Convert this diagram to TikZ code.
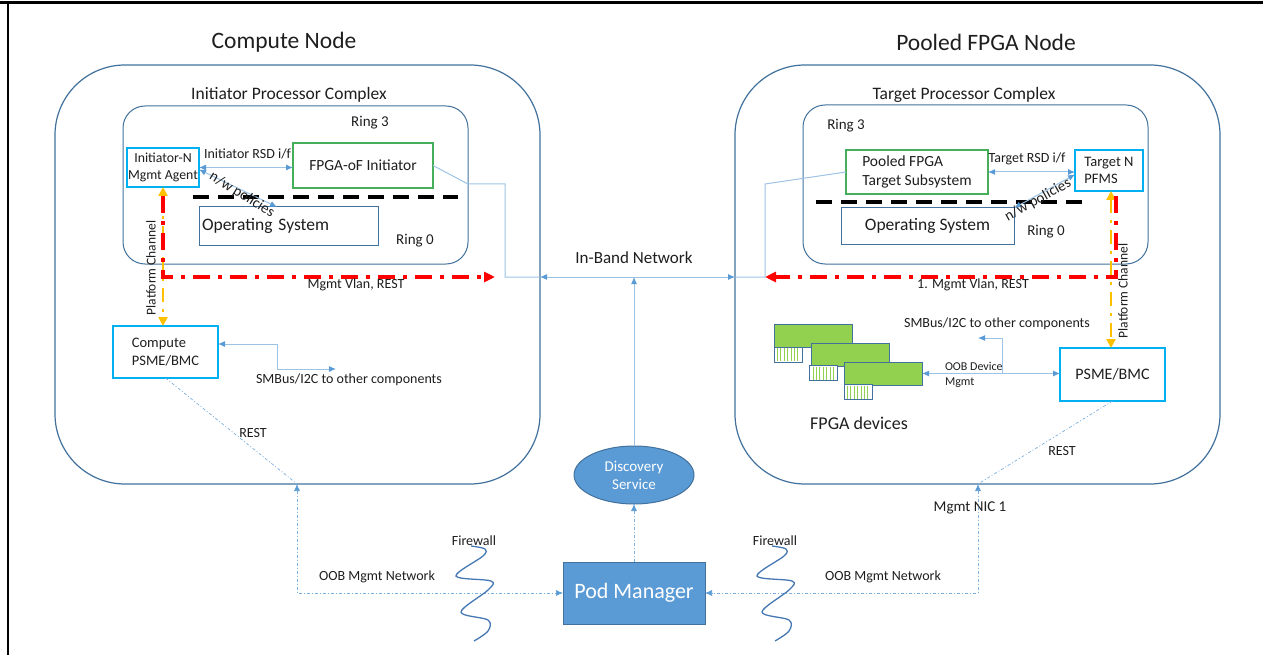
\documentclass[tikz,border=0pt]{standalone}
\usepackage{fontspec}
\setmainfont{Carlito}
\usetikzlibrary{arrows.meta,shapes.geometric,calc}

\definecolor{boxblue}{RGB}{65,113,156}
\definecolor{cyanb}{RGB}{0,176,240}
\definecolor{greenb}{RGB}{70,175,90}
\definecolor{linkblue}{RGB}{157,195,230}
\definecolor{tipblue}{RGB}{91,155,213}
\definecolor{cardgreen}{RGB}{146,208,80}
\definecolor{chanyellow}{RGB}{255,192,0}
\definecolor{fwblue}{RGB}{70,120,180}
\definecolor{txt}{RGB}{30,30,30}

\newcommand{\fs}[1]{\fontsize{#1}{\fpeval{round(1.2*#1,2)}}\selectfont}

\begin{document}
\begin{tikzpicture}[x=1pt,y=-1pt,
  every node/.style={inner sep=0pt, outer sep=0pt, text=txt},
  region/.style={draw=boxblue, line width=1.2pt, rounded corners=70pt},
  cplx/.style={draw=boxblue, line width=1pt, rounded corners=22pt},
  agentbox/.style={draw=cyanb, line width=1.5pt, align=center, font=\fs{13.8}},
  leftbox/.style={draw=cyanb, line width=1.5pt, align=left, font=\fs{14.5}},
  greenbox/.style={draw=greenb, line width=1.3pt, font=\fs{15.5}},
  osbox/.style={draw=boxblue, line width=1pt, font=\fs{17.5}},
  lbl/.style={font=\fs{15}},
  small/.style={font=\fs{14}},
  link/.style={draw=linkblue, line width=1pt, >={Latex[length=7pt,width=6pt,color=tipblue]}},
  oob/.style={draw=tipblue!80, line width=0.7pt, dash pattern=on 3pt off 2pt on 1pt off 2pt, >={Latex[length=7pt,width=6pt,color=tipblue]}},
  mgmt/.style={draw=red, line width=3.5pt, dash pattern=on 17pt off 8pt on 4pt off 8pt, -{Triangle[length=11pt,width=10pt]}},
  chan/.style={draw=chanyellow, line width=2.5pt, dash pattern=on 14pt off 7pt on 3pt off 7pt, {Triangle[length=9pt,width=9pt]}-{Triangle[length=9pt,width=9pt]}},
  ringsep/.style={draw=black, line width=4pt, dash pattern=on 16pt off 9pt},
  card/.style={draw=boxblue, line width=1pt, fill=cardgreen, minimum width=78pt, minimum height=23pt},
  strip/.style={draw=boxblue, line width=1pt, fill=white, minimum width=28pt, minimum height=15pt},
  fw/.style={draw=fwblue, line width=1.3pt}
]
\useasboundingbox (0,0) rectangle (1263,655);

% page frame
\draw[line width=3pt] (0,3) -- (1263,3);
\draw[line width=2.2pt] (8,2) -- (8,655);

% titles
\node[font=\fs{23.5}] at (284,42) {Compute Node};
\node[font=\fs{23.5}] at (986,42) {Pooled FPGA Node};

% node enclosures
\node[region, minimum width=485pt, minimum height=419pt] (cn) at (297.5,274.5) {};
\node[region, minimum width=485pt, minimum height=419pt] (pn) at (977.5,274.5) {};

% processor complexes
\node[font=\fs{17.5}] at (289,95) {Initiator Processor Complex};
\node[cplx, minimum width=345pt, minimum height=158pt] (cxl) at (295.5,185) {};
\node[font=\fs{17.5}] at (964,95) {Target Processor Complex};
\node[cplx, minimum width=345pt, minimum height=159pt] (cxr) at (975.5,184.5) {};

% ---------- compute side ----------
\node[lbl] at (370,123) {Ring 3};
\node[lbl] at (415,241) {Ring 0};
\node[agentbox, minimum width=72pt, minimum height=39pt] (agent) at (163,167.5) {Initiator-N\\Mgmt Agent};
\node[greenbox, minimum width=140pt, minimum height=45pt] (fpgai) at (363,165.5) {FPGA-oF Initiator};
\node[osbox, minimum width=179pt, minimum height=38pt, text width=173pt, align=left] (osl) at (288.5,226) {Operating System};
\draw[ringsep] (193,197) -- (458,197);

\node[small] at (247.5,154) {Initiator RSD i/f};
\draw[link,<->] (agent.east) -- (agent.east -| fpgai.west);
\draw[link,<->] ($(agent.east)+(0,2)$) -- ($(osl.north west)+(78,0)$);
\node[lbl, rotate=-32] at (242,195) {n/w policies};

\node[leftbox, minimum width=105pt, minimum height=52pt] (cpsme) at (165.5,352) {Compute\\PSME/BMC};

% platform channel and management VLAN
\coordinate (mvl) at (495,277);
\draw[chan] (agent.south) -- (agent.south |- cpsme.north);
\draw[mgmt] ($(agent.south)+(0,9)$) |- (mvl);
\node[font=\fs{13.5}, rotate=90] at (151,268) {Platform Channel};
\node[small] at (356,285) {Mgmt Vlan, REST};

\draw[link,<->] ($(cpsme.east)+(0,-8)$) -- (277,344) |- (336,369);
\node[small] at (349,380) {SMBus/I2C to other components};

% ---------- pooled FPGA side ----------
\node[lbl] at (846,126) {Ring 3};
\node[lbl] at (1046,232) {Ring 0};
\node[greenbox, minimum width=142pt, minimum height=44pt, align=left] (pfga) at (917,172) {Pooled FPGA\\Target Subsystem};
\node[leftbox, minimum width=68pt, minimum height=41pt] (pfms) at (1109,170.5) {Target N\\PFMS};
\node[osbox, minimum width=173pt, minimum height=36pt] (osr) at (927.5,226) {Operating System};
\draw[ringsep] (816,202) -- (1083,202);

\node[small] at (1027,159) {Target RSD i/f};
\draw[link,<->] (pfga.east) -- (pfga.east -| pfms.west);
\draw[link,<->] (osr.north east) -- ($(pfms.west)+(0,4)$);
\node[lbl, rotate=29] at (1038,200) {n/w policies};

\node[draw=cyanb, line width=1.5pt, minimum width=105pt, minimum height=53pt, font=\fs{16}] (psme) at (1112.5,374.5) {PSME/BMC};

\coordinate (rch) at (1111,0);
\coordinate (rmvl) at (765,277);
\draw[chan] (pfms.south -| rch) -- (psme.north -| rch);
\draw[mgmt] ($(pfms.south)+(7,5)$) |- (rmvl);
\node[font=\fs{13.5}, rotate=90] at (1123,291) {Platform Channel};
\node[small] at (973,285) {1. Mgmt Vlan, REST};

% FPGA cards
\node[card] (card1) at (813,335.5) {};
\node[strip] (strip1) at (788,354.5) {};
\node[card] (card2) at (850,354.5) {};
\node[strip] (strip2) at (823.5,373) {};
\node[card] (card3) at (883,373.5) {};
\node[strip] (strip3) at (858,392) {};
\foreach \s in {strip1,strip2,strip3}{
  \foreach \k in {1,...,7}{
    \draw[cardgreen, line width=0.8pt] ($(\s.north west)+(3.4*\k,1)$) -- ($(\s.south west)+(3.4*\k,-1)$);
  }
}
\node[font=\fs{18}] at (859,423) {FPGA devices};

\coordinate (oobd) at (1002,0);
\draw[link,<->] (card3.east) -- (card3.east -| psme.west);
\draw[link,->] (card3.east -| oobd) |- (978,338);
\node[font=\fs{12}, align=left, anchor=west] at (945,375) {OOB Device\\Mgmt};
\node[small] at (997,324) {SMBus/I2C to other components};

% ---------- in-band network ----------
\coordinate (ib) at (634,277);
\node[font=\fs{17}] at (634,258) {In-Band Network};
\draw[link,<->] (cn.east |- ib) -- (pn.west |- ib);
\draw[link] (fpgai.east) -- (cxl.east |- 0,184) -- (505,184) -- (505,277) -- (cn.east |- ib);
\draw[link] (pfga.west) -- (765,184) -- (765,277) -- (pn.west |- ib);

% ---------- management plane ----------
\node[ellipse, draw=boxblue, line width=1pt, fill=tipblue, minimum width=120pt, minimum height=58pt, align=center, font=\fs{15}, text=white] (disc) at (634,475) {Discovery\\Service};
\node[draw=boxblue, line width=1pt, fill=tipblue, minimum width=142pt, minimum height=62pt, font=\fs{22}, text=white] (podm) at (634,593) {Pod Manager};
\draw[link,->] (disc.north) -- (ib);
\draw[oob,->] (podm.north) -- (disc.south);

\coordinate (lnic) at (297,484);
\coordinate (rnic) at (978,484);
\draw[oob] (cpsme.south) -- (lnic);
\draw[oob] (psme.south) -- (rnic);
\node[small] at (253,433) {REST};
\node[small] at (1062,451) {REST};
\node[font=\fs{15}, fill=white, inner sep=1pt] at (970,508) {Mgmt NIC 1};

\draw[oob,<->] (lnic) |- (podm.west);
\draw[oob,<->] (rnic) |- (podm.east);
\node[small] at (377,577) {OOB Mgmt Network};
\node[small] at (883,577) {OOB Mgmt Network};

% firewalls
\foreach \dx/\nm in {-301/fwl, 0/fwr}{
  \begin{scope}[xshift=\dx pt]
    \node[small] (\nm) at (775,541) {Firewall};
    \draw[fw] plot[smooth, tension=0.55] coordinates {(772,546) (786,549) (784,556) (757,576) (792,581) (789,590) (762,612) (789,620) (789,631) (775,641)};
  \end{scope}
}
\end{tikzpicture}
\end{document}
